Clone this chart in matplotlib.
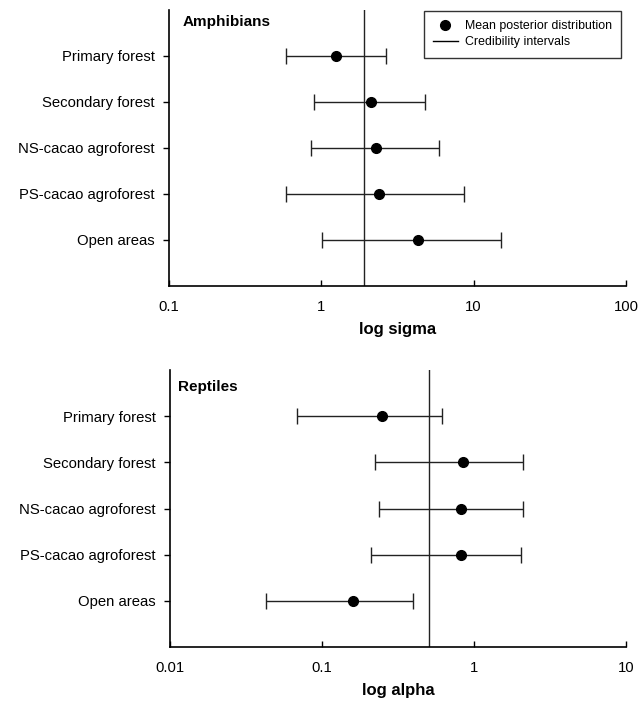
import numpy as np
import matplotlib
matplotlib.use("Agg")
import matplotlib.pyplot as plt
from matplotlib.lines import Line2D

plt.rcParams['font.family'] = ['Liberation Sans', 'DejaVu Sans']

habitats = ["Primary forest", "Secondary forest", "NS-cacao agroforest",
            "PS-cacao agroforest", "Open areas"]

# Amphibians (log sigma)
amph_mean = [1.25, 2.12, 2.27, 2.38, 4.32]
amph_lo = [0.585, 0.90, 0.86, 0.585, 1.01]
amph_hi = [2.64, 4.76, 5.93, 8.6, 15.1]
amph_ref = 1.9

# Reptiles (log alpha)
rept_mean = [0.249, 0.842, 0.821, 0.825, 0.159]
rept_lo = [0.0688, 0.222, 0.236, 0.210, 0.0426]
rept_hi = [0.613, 2.11, 2.09, 2.05, 0.397]
rept_ref = 0.503

fig = plt.figure(figsize=(6.39, 7.03), dpi=100)
W, H = 639, 703


def add_panel(box, mean, lo, hi, ref, xlim, xticks, xticklabels, title, title_xy, xlabel,
              legend=False):
    left, top, right, bottom = box
    ax = fig.add_axes([left / W, 1 - bottom / H, (right - left) / W, (bottom - top) / H])
    ypos = np.arange(len(habitats), 0, -1)
    mean = np.array(mean)
    err = np.array([mean - np.array(lo), np.array(hi) - mean])
    ax.errorbar(mean, ypos, xerr=err, fmt='o', color='black', ms=7,
                ecolor='#222222', elinewidth=1.0, capsize=5.5, capthick=1.0)
    ax.axvline(ref, color='#222222', lw=1.0)
    ax.set_xscale('log')
    ax.set_xlim(*xlim)
    ax.set_ylim(0, len(habitats) + 1)
    ax.set_xticks(xticks)
    ax.set_xticklabels(xticklabels)
    ax.xaxis.set_minor_locator(matplotlib.ticker.NullLocator())
    ax.set_yticks(ypos)
    ax.set_yticklabels(habitats)
    ax.tick_params(axis='y', labelsize=10.7, length=4, width=1.0, direction='out', pad=6)
    ax.tick_params(axis='x', labelsize=10.7, length=4, width=1.0, direction='in', pad=10)
    ax.spines['top'].set_visible(False)
    ax.spines['right'].set_visible(False)
    for s in ('left', 'bottom'):
        ax.spines[s].set_linewidth(1.2)
    ax.set_xlabel(xlabel, fontsize=12, fontweight='bold', labelpad=6)
    ax.text(title_xy[0], title_xy[1], title, transform=ax.transAxes, fontsize=11,
            fontweight='bold', va='center', ha='left')
    if legend:
        handles = [Line2D([], [], marker='o', ls='none', color='black', ms=7),
                   Line2D([], [], color='black', lw=1.0)]
        leg = ax.legend(handles, ["Mean posterior distribution", "Credibility intervals"],
                        loc='upper right', bbox_to_anchor=(0.99, 0.997), borderaxespad=0,
                        fontsize=8.9, frameon=True, fancybox=False, edgecolor='black',
                        handlelength=2.0, handletextpad=0.6, borderpad=0.75,
                        labelspacing=0.35)
        leg.get_frame().set_linewidth(1.0)
    return ax


add_panel((169, 10, 626, 286), amph_mean, amph_lo, amph_hi, amph_ref,
          (0.1, 100), [0.1, 1, 10, 100], ["0.1", "1", "10", "100"],
          "Amphibians", (0.03, 0.955), "log sigma", legend=True)
add_panel((170, 370, 626, 647), rept_mean, rept_lo, rept_hi, rept_ref,
          (0.01, 10), [0.01, 0.1, 1, 10], ["0.01", "0.1", "1", "10"],
          "Reptiles", (0.018, 0.94), "log alpha")

fig.savefig("out.png", dpi=100)
